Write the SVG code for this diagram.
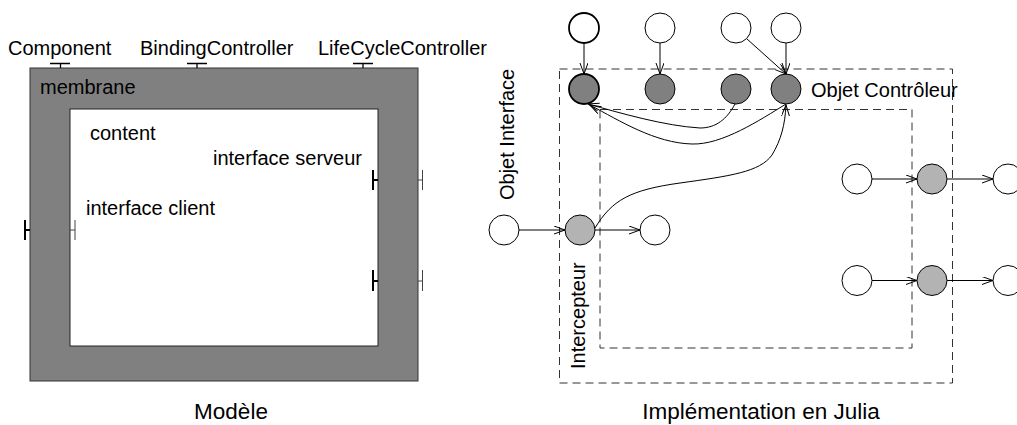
<svg xmlns="http://www.w3.org/2000/svg" width="1017" height="425" viewBox="0 0 1017 425">
<style>
text{font-family:"Liberation Sans",Arial,sans-serif;font-size:20px;fill:#000}
.big{font-size:22.5px}
.wc{fill:#fff;stroke:#000;stroke-width:1}
.dc{fill:#808080;stroke:#000;stroke-width:1}
.lc{fill:#b3b3b3;stroke:#000;stroke-width:1}
.thick{stroke-width:1.8}
.dash{fill:none;stroke:#333;stroke-width:1;stroke-dasharray:8,5}
.con{fill:none;stroke:#000;stroke-width:1;marker-end:url(#arr)}
.port{fill:none;stroke:#000;stroke-width:1.3}
.portT{fill:none;stroke:#000;stroke-width:2}
.portt{fill:none;stroke:#444;stroke-width:1}
</style>
<defs>
<marker id="arr" markerUnits="userSpaceOnUse" markerWidth="12" markerHeight="10" refX="11" refY="4" orient="auto">
<path d="M0,0 L11,4 L0,8" fill="none" stroke="#000" stroke-width="1"/>
</marker>
</defs>
<rect width="1017" height="425" fill="#fff"/>

<!-- Left: model -->
<g id="membrane">
<rect x="30" y="68" width="388" height="313" fill="#808080" stroke="#333" stroke-width="1"/>
<text x="40" y="94">membrane</text>
</g>
<g id="content">
<rect x="70" y="109" width="308" height="237" fill="#fff" stroke="#222" stroke-width="1"/>
<text x="90" y="140">content</text>
<text x="213" y="165">interface serveur</text>
<text x="86" y="215">interface client</text>
</g>
<g id="port-component">
<path class="port" d="M50,63.5 H70 M60.5,63.5 V68"/>
<text x="8" y="55">Component</text>
</g>
<g id="port-binding">
<path class="port" d="M187,63.5 H207 M197,63.5 V68"/>
<text x="140" y="55">BindingController</text>
</g>
<g id="port-lifecycle">
<path class="port" d="M353,63.5 H373 M363,63.5 V68"/>
<text x="318" y="55">LifeCycleController</text>
</g>
<g id="port-client">
<path class="portT" d="M25,220 V240 M25,230 H30"/>
<path class="portt" d="M75,220 V240 M70,230 H75"/>
</g>
<g id="port-server1">
<path class="portT" d="M373,170 V190 M373,180 H378"/>
<path class="portt" d="M422.5,170 V190 M418,180 H422.5"/>
</g>
<g id="port-server2">
<path class="portT" d="M373,270 V291 M373,281 H378"/>
<path class="portt" d="M422.5,270 V291 M418,281 H422.5"/>
</g>
<text class="big" x="231" y="419" text-anchor="middle">Modèle</text>

<!-- Right: Julia implementation -->
<g id="objet-interface">
<rect class="dash" x="559.5" y="69" width="393" height="314"/>
<text transform="translate(514,200) rotate(-90)">Objet Interface</text>
</g>
<g id="intercepteur">
<rect class="dash" x="600" y="109.5" width="312" height="238.5"/>
<text transform="translate(584.5,369) rotate(-90)">Intercepteur</text>
</g>
<text x="811" y="97">Objet Contrôleur</text>

<g id="top1"><circle class="wc thick" cx="584" cy="28" r="15"/></g>
<g id="top2"><circle class="wc" cx="660" cy="28" r="15"/></g>
<g id="top3"><circle class="wc" cx="736" cy="28" r="15"/></g>
<g id="top4"><circle class="wc" cx="786" cy="28" r="15"/></g>
<g id="ctrl1"><circle class="dc thick" cx="584" cy="89" r="15"/></g>
<g id="ctrl2"><circle class="dc" cx="660" cy="89" r="15"/></g>
<g id="ctrl3"><circle class="dc" cx="736" cy="89" r="15"/></g>
<g id="ctrl4"><circle class="dc" cx="786" cy="89" r="15"/></g>

<g id="in1"><circle class="wc" cx="504" cy="230" r="15"/></g>
<g id="icp1"><circle class="lc" cx="580" cy="230" r="15"/></g>
<g id="out1"><circle class="wc" cx="655" cy="230" r="15"/></g>

<g id="in2"><circle class="wc" cx="857" cy="179" r="15"/></g>
<g id="icp2"><circle class="lc" cx="932" cy="179" r="15"/></g>
<g id="out2"><circle class="wc" cx="1008" cy="179" r="15"/></g>

<g id="in3"><circle class="wc" cx="857" cy="280.5" r="15"/></g>
<g id="icp3"><circle class="lc" cx="932" cy="280.5" r="15"/></g>
<g id="out3"><circle class="wc" cx="1008" cy="280.5" r="15"/></g>

<g id="connectors">
<path class="con" d="M584,43 V74"/>
<path class="con" d="M660,43 V74"/>
<path class="con" d="M786,43 V74"/>
<path class="con" d="M747,39 L786,74"/>
<path class="con" d="M735,104 C727,119 716,128 700,128 C665,126 620,113 588,104"/>
<path class="con" d="M786,104 C760,120 722,145 692,144 C655,143 620,121 590,105"/>
<path class="con" d="M595,228 C612,200 630,190 680,183 C730,176 760,172 772,155 C781,140 785,125 786,105"/>
<path class="con" d="M519,230 H565"/>
<path class="con" d="M595,230 H640"/>
<path class="con" d="M872,179 H917"/>
<path class="con" d="M947,179 H993"/>
<path class="con" d="M872,280.5 H917"/>
<path class="con" d="M947,280.5 H993"/>
</g>

<text class="big" x="761" y="419" text-anchor="middle">Implémentation en Julia</text>
</svg>
